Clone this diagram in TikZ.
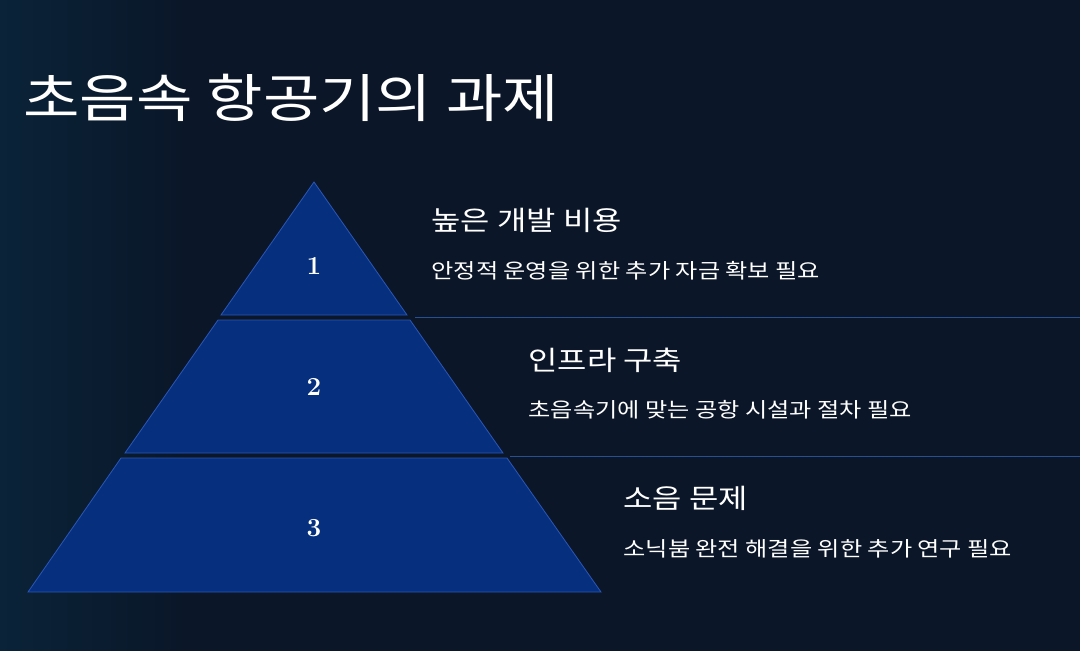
\documentclass[tikz,border=0pt]{standalone}
\usepackage{fontspec}
\newfontfamily\kr[FakeStretch=1.18]{Noto Sans CJK KR}
\definecolor{bg}{HTML}{0B1628}
\definecolor{tier}{HTML}{06307E}
\definecolor{edge}{HTML}{2A56B8}
\definecolor{rule}{HTML}{2A4F8F}
\begin{document}
\begin{tikzpicture}[x=1pt,y=-1pt,
  tierbox/.style={fill=tier,draw=edge,line width=0.8pt},
  num/.style={text=white,font=\bfseries\fontsize{26}{26}\selectfont},
  head/.style={text=white,anchor=west,font=\kr\fontsize{27}{30}\selectfont},
  sub/.style={text=white,anchor=west,font=\kr\fontsize{20.5}{24}\selectfont}]
\useasboundingbox (0,0) rectangle (1080,651);
\fill[bg] (0,0) rectangle (1080,651);
\shade[left color=bg!80!blue!60!cyan, right color=bg, opacity=0.15] (0,0) rectangle (200,651);
\node[text=white,anchor=west,font=\kr\fontsize{52}{56}\selectfont] (title) at (20,98) {초음속 항공기의 과제};
\draw[tierbox] (314,182) -- (407,315) -- (221,315) -- cycle;
\draw[tierbox] (218,320) -- (410,320) -- (503,453) -- (125,453) -- cycle;
\draw[tierbox] (121,458) -- (507,458) -- (601,592) -- (28,592) -- cycle;
\node[num] (n1) at (314,266) {1};
\node[num] (n2) at (314,387) {2};
\node[num] (n3) at (314,528) {3};
\draw[rule,line width=0.8pt] (415,317) -- (1080,317);
\draw[rule,line width=0.8pt] (510,456) -- (1080,456);
\node[head] (h1) at (428,220) {높은 개발 비용};
\node[sub] (s1) at (428,271) {안정적 운영을 위한 추가 자금 확보 필요};
\node[head] (h2) at (525,360) {인프라 구축};
\node[sub] (s2) at (525,410) {초음속기에 맞는 공항 시설과 절차 필요};
\node[head] (h3) at (620,498) {소음 문제};
\node[sub] (s3) at (620,549) {소닉붐 완전 해결을 위한 추가 연구 필요};
\end{tikzpicture}
\end{document}
